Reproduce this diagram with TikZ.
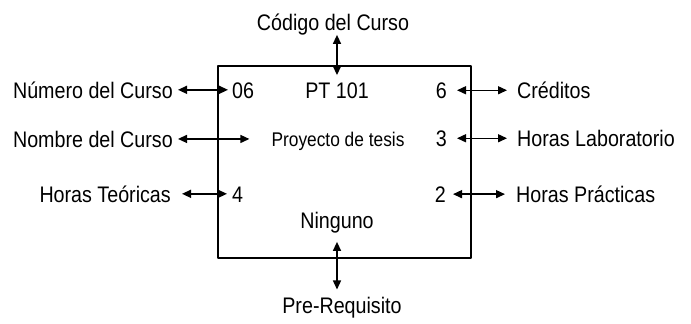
\documentclass[tikz,border=0pt]{standalone}
\usepackage{fontspec}
\setmainfont{Liberation Sans}[FakeStretch=0.875]
\usetikzlibrary{arrows.meta}
\tikzset{lbl/.style={inner sep=0pt},
	flecha/.style={<->,line width=1.4pt}}
\begin{document}
\begin{tikzpicture}[>={Triangle[length=9pt,width=8pt]},line join=round,x=1pt,y=-1pt,font=\fontsize{22.5}{27}\selectfont]
		\useasboundingbox (0,0) rectangle (691,324);
		\draw[line width=2.5pt] (218,66) rectangle (471,258);
		% arriba y abajo
		\node[lbl,anchor=base] (codigo) at (333,30) {Código del Curso};
		\node[lbl,anchor=base] (pt) at (337,98) {PT 101};
		\node[lbl,anchor=base] (ninguno) at (337,228) {Ninguno};
		\node[lbl,anchor=base] (prereq) at (342,313) {Pre-Requisito};
		% izquierda
		\node[lbl,anchor=base east] (numero) at (173,98) {Número del Curso};
		\node[lbl,anchor=base west] (n06) at (232,98) {06};
		\node[lbl,anchor=base east] (nombre) at (173,147) {Nombre del Curso};
		\node[lbl,anchor=base,font=\fontsize{19.8}{24}\selectfont] (proyecto) at (338,146) {Proyecto de tesis};
		\node[lbl,anchor=base east] (teoricas) at (171,202) {Horas Teóricas};
		\node[lbl,anchor=base west] (n4) at (232,202) {4};
		% derecha
		\node[lbl,anchor=base east] (n6) at (447,98) {6};
		\node[lbl,anchor=base west] (creditos) at (517,98) {Créditos};
		\node[lbl,anchor=base east] (n3) at (447,146) {3};
		\node[lbl,anchor=base west] (laboratorio) at (517,146) {Horas Laboratorio};
		\node[lbl,anchor=base east] (n2) at (446,202) {2};
		\node[lbl,anchor=base west] (practicas) at (516,202) {Horas Prácticas};
		% flechas
		\draw[flecha,shorten >=7pt] (codigo.south -| pt.north) -- (pt.north);
		\draw[flecha,shorten <=9pt,shorten >=7pt] (ninguno.south) -- (prereq.north -| ninguno.south);
		\draw[flecha,shorten <=5pt,shorten >=4pt] (numero.east) -- (n06.west |- numero.east);
		\draw[flecha,shorten <=5pt,shorten >=22pt] (nombre.east) -- (proyecto.west |- nombre.east);
		\draw[flecha,shorten <=11pt,shorten >=5pt] (teoricas.east) -- (n4.west |- teoricas.east);
		\draw[flecha,shorten <=10pt,shorten >=10pt] (n6.east) -- (creditos.west |- n6.east);
		\draw[flecha,shorten <=10pt,shorten >=10pt] (n3.east) -- (laboratorio.west |- n3.east);
		\draw[flecha,shorten <=7pt,shorten >=11pt] (n2.east) -- (practicas.west |- n2.east);
\end{tikzpicture}
\end{document}
